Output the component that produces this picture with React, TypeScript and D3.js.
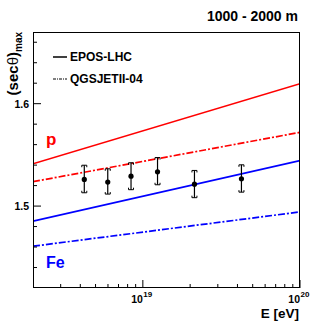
import React from "react";
import * as d3 from "d3";

// model predictions, evaluated at the ends of the energy range
const modelEnergies = [2e18, 1e20];
const eposP = [1.5413, 1.6195];
const qgsP = [1.5238, 1.5720];
const eposFe = [1.4852, 1.5445];
const qgsFe = [1.4608, 1.4943];

// measured points
const energies = [4.24e18, 5.98e18, 8.41e18, 1.24e19, 2.13e19, 4.24e19];
const values = [1.526, 1.5234, 1.5292, 1.5335, 1.5214, 1.5267];
const errLow = [1.513, 1.5117, 1.516, 1.5208, 1.5082, 1.5136];
const errHigh = [1.5399, 1.5364, 1.5423, 1.5474, 1.5348, 1.5403];

const yMajor = [1.5, 1.6];
const yMinor = [1.44, 1.46, 1.48, 1.52, 1.54, 1.56, 1.58, 1.62, 1.64, 1.66];
const xMajor = [1e19, 1e20];
const xMajorExp = ["19", "20"];
const xMinor = [3e18, 4e18, 5e18, 6e18, 7e18, 8e18, 9e18, 2e19, 3e19, 4e19, 5e19, 6e19, 7e19, 8e19, 9e19];

const W = 333, H = 321;
const left = 33, right = 300, top = 32, bottom = 288;
const FONT = "'Liberation Sans', Arial, Helvetica, sans-serif";
const DASHDOT = "7,2,2,2";

export default function App() {
  const x = d3.scaleLog().domain([2e18, 1e20]).range([left, right]);
  const y = d3.scaleLinear().domain([1.42, 1.67]).range([bottom, top]);
  const line = d3.line<[number, number]>().x(d => x(d[0])).y(d => y(d[1]));
  const mk = (vals: number[]) => line(modelEnergies.map((e, i) => [e, vals[i]]) as [number, number][]) || "";

  const models = [
    { vals: eposP, color: "#ff0000", dash: undefined },
    { vals: qgsP, color: "#ff0000", dash: DASHDOT },
    { vals: eposFe, color: "#0000ff", dash: undefined },
    { vals: qgsFe, color: "#0000ff", dash: DASHDOT },
  ];

  return (
    <svg width={W} height={H} style={{ position: "absolute", left: 0, top: 0, background: "#fff" }}
      fontFamily={FONT} fontWeight="bold">
      <defs>
        <clipPath id="frame">
          <rect x={left} y={top} width={right - left} height={bottom - top} />
        </clipPath>
      </defs>

      <text x={298} y={21} fontSize={14} textAnchor="end">1000 - 2000 m</text>

      {/* model lines */}
      <g clipPath="url(#frame)">
        {models.map((m, i) => (
          <path key={i} d={mk(m.vals)} fill="none" stroke={m.color} strokeWidth={1.7}
            strokeDasharray={m.dash} />
        ))}
      </g>

      {/* data */}
      {energies.map((e, i) => {
        const cx = x(e);
        const lo = y(errLow[i]), hi = y(errHigh[i]);
        return (
          <g key={i} stroke="#000" fill="none">
            <line x1={cx} x2={cx} y1={hi} y2={lo} strokeWidth={1.2} />
            <path d={`M${cx - 2.5},${hi + 2}V${hi}H${cx + 2.5}V${hi + 2}`} strokeWidth={1} />
            <path d={`M${cx - 2.5},${lo - 2}V${lo}H${cx + 2.5}V${lo - 2}`} strokeWidth={1} />
            <circle cx={cx} cy={y(values[i])} r={2.6} fill="#000" stroke="none" />
          </g>
        );
      })}

      {/* frame */}
      <rect x={left + 0.5} y={top + 0.5} width={right - left - 1} height={bottom - top - 1}
        fill="none" stroke="#000" strokeWidth={1} />

      {/* y ticks */}
      {yMajor.map(v => (
        <g key={v}>
          <line x1={left} x2={left + 8} y1={y(v)} y2={y(v)} stroke="#000" />
          <text x={29} y={y(v) + 4} fontSize={10.5} textAnchor="end">{d3.format(".1f")(v)}</text>
        </g>
      ))}
      {yMinor.map(v => (
        <line key={v} x1={left} x2={left + 4} y1={y(v)} y2={y(v)} stroke="#000" />
      ))}

      {/* x ticks */}
      {xMajor.map((v, i) => (
        <g key={v}>
          <line x1={x(v)} x2={x(v)} y1={bottom} y2={bottom - 8} stroke="#000" />
          <text x={x(v)} y={302.5} fontSize={10.5} textAnchor="end">10</text>
          <text x={x(v) + 0.5} y={297} fontSize={8}>{xMajorExp[i]}</text>
        </g>
      ))}
      {xMinor.map(v => (
        <line key={v} x1={x(v)} x2={x(v)} y1={bottom} y2={bottom - 4} stroke="#000" />
      ))}

      {/* axis titles */}
      <text x={299} y={317.5} fontSize={13.5} textAnchor="end">E [eV]</text>
      <text transform={`translate(18,32) rotate(-90)`} fontSize={15} textAnchor="end">
        (sec<tspan fontWeight="normal">θ</tspan>)<tspan fontSize={10} dy={4}>max</tspan>
      </text>

      {/* legend */}
      <line x1={53} x2={67} y1={57} y2={57} stroke="#000" strokeWidth={1.5} />
      <text x={70} y={61} fontSize={12}>EPOS-LHC</text>
      <line x1={53} x2={67} y1={79} y2={79} stroke="#000" strokeWidth={1} strokeDasharray="3,1,1,1" />
      <text x={70} y={83} fontSize={12}>QGSJETII-04</text>

      <text x={46} y={145} fontSize={17} fill="#ff0000">p</text>
      <text x={46} y={268} fontSize={16} fill="#0000ff">Fe</text>
    </svg>
  );
}
